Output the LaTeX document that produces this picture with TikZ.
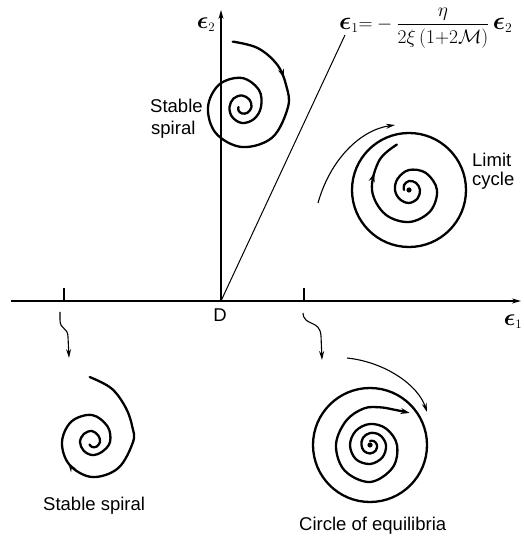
\RequirePackage{fix-cm}
\documentclass[tikz,border=0pt]{standalone}
\usepackage{amsmath}
\usepackage{graphicx}
\usepackage{fontspec}
\setmainfont{Liberation Sans}
\usetikzlibrary{arrows.meta,decorations.markings}
\newcommand{\eps}{\scalebox{1.3}{$\boldsymbol{\epsilon}$}}
\begin{document}
\begin{tikzpicture}[x=1pt,y=1pt,
  lbl/.style={font=\fontsize{18.5}{22}\selectfont, inner sep=0pt},
  eqlbl/.style={font=\fontsize{19.5}{23}\selectfont, inner sep=0pt},
  axisline/.style={line width=1.2pt},
  spiral/.style={line width=2.3pt, line cap=round, line join=round},
  thinarrow/.style={line width=1.1pt, -{Stealth[length=9pt,width=5pt]}},
  endtip/.style={-{Stealth[length=9pt,width=6pt]}},
  midarrow/.style={postaction={decorate}, decoration={markings, mark=at position #1 with {\arrow{Stealth[length=9pt,width=6pt]}}}},
]
\useasboundingbox (0,0) rectangle (524,541);

% axes
\coordinate (xs) at (11,240);
\coordinate (O) at (221,240);
\coordinate (xe) at (521,240);
\coordinate (ye) at (221,531);
\coordinate (tL) at (64,240);
\coordinate (tR) at (304,240);
\coordinate (lineEnd) at (345,506);
\draw[axisline,-{Stealth[length=9pt,width=5pt]}] (xs) -- (xe);
\draw[axisline,-{Stealth[length=9pt,width=5pt]}] (O) -- (ye);
\draw[axisline] (tL) -- ++(0,13);
\draw[axisline] (tR) -- ++(0,13);
\draw[line width=1pt] (O) -- (lineEnd);

% axis labels
\node[lbl] (D) at (220,226) {D};
\node[lbl] (e1) at (513,219) {$\eps_1$};
\node[lbl] (e2) at (206,516) {$\eps_2$};
\node[eqlbl, anchor=west] (eq) at (339,513) {$\eps_1{=}-\dfrac{\eta}{2\xi\,(1{+}2\mathcal{M})}\,\eps_2$};

% top stable spiral
\begin{scope}[shift={(242,434)}]
\draw[spiral, midarrow=0.16] plot[smooth, tension=0.6] coordinates {(98:66) (75:61) (50:55) (25:49) (0:46) (-45:43) (-90:40) (-135:37) (-180:34) (-225:32) (-270:29) (-315:24) (-360:19) (-405:17) (-450:16) (-495:14) (-540:12.5) (-585:12) (-630:11.5) (-675:10.5) (-720:9.5) (-765:8) (-810:6.5) (-855:5) (-900:3.5)};
\end{scope}
\node[lbl, anchor=base west] (s1) at (150,428) {Stable};
\node[lbl, anchor=base west] (s2) at (151,406) {spiral};

% limit cycle
\draw[spiral] (409,351) circle (57);
\fill (409,351) circle (2.6);
\begin{scope}[shift={(409,351)}]
\draw[spiral, midarrow=0.87] plot[smooth, tension=0.6] coordinates {(900:5) (855:7) (810:9) (765:10) (720:11) (675:12) (630:13) (585:13) (540:14) (495:16) (450:20) (405:24) (360:28) (315:30) (270:32) (225:34) (180:37) (135:42) (105:47)};
\end{scope}
\coordinate (lcA) at (318,338);
\coordinate (lcB) at (395,416);
\draw[thinarrow] (lcA) .. controls (330,381) and (360,411) .. (lcB);
\node[lbl, anchor=base west] (lim1) at (472,374) {Limit};
\node[lbl, anchor=base west] (lim2) at (472,355) {cycle};

% wavy arrows from ticks
\coordinate (wL0) at (60,229);
\coordinate (wL1) at (69,183);
\draw[thinarrow] (wL0) -- (60,221) .. controls (60,211) and (68,214) .. (68,204) -- (wL1);
\coordinate (wR0) at (303,228);
\coordinate (wR1) at (322,181);
\draw[thinarrow] (wR0) .. controls (304,214) and (320,222) .. (321,205) -- (wR1);

% bottom stable spiral
\begin{scope}[shift={(92,99)}]
\draw[spiral, midarrow=0.47] plot[smooth, tension=0.6] coordinates {(92:65) (70:57) (45:48) (20:43) (0:41) (-45:37) (-90:35) (-135:32) (-180:30) (-225:29) (-270:27) (-315:22) (-360:18) (-405:14) (-450:13) (-495:12) (-540:12) (-585:11.5) (-630:11) (-675:9) (-720:8) (-765:6.5) (-810:5) (-855:3.5)};
\end{scope}
\node[lbl, anchor=base west] (bs) at (43,30) {Stable spiral};

% circle of equilibria
\draw[spiral] (370,96) circle (57);
\fill (370,96) circle (2.6);
\begin{scope}[shift={(370,96)}]
\draw[spiral, endtip] plot[smooth, tension=0.6] coordinates {(1170:4) (1125:5.5) (1080:7) (1035:8) (990:8.5) (945:8.5) (900:8.5) (855:10) (810:12) (765:14) (720:16) (675:17.5) (630:19) (585:20) (540:20) (495:20) (450:21) (405:23) (360:27) (315:32) (270:37) (225:36) (180:34) (135:34) (100:37) (75:39) (55:43) (39:51)};
\end{scope}
\coordinate (ceA) at (347,183);
\coordinate (ceB) at (427,129);
\draw[thinarrow] (ceA) .. controls (385,179) and (418,156) .. (ceB);
\node[lbl, anchor=base west] (ce) at (299,10) {Circle of equilibria};
\end{tikzpicture}
\end{document}
